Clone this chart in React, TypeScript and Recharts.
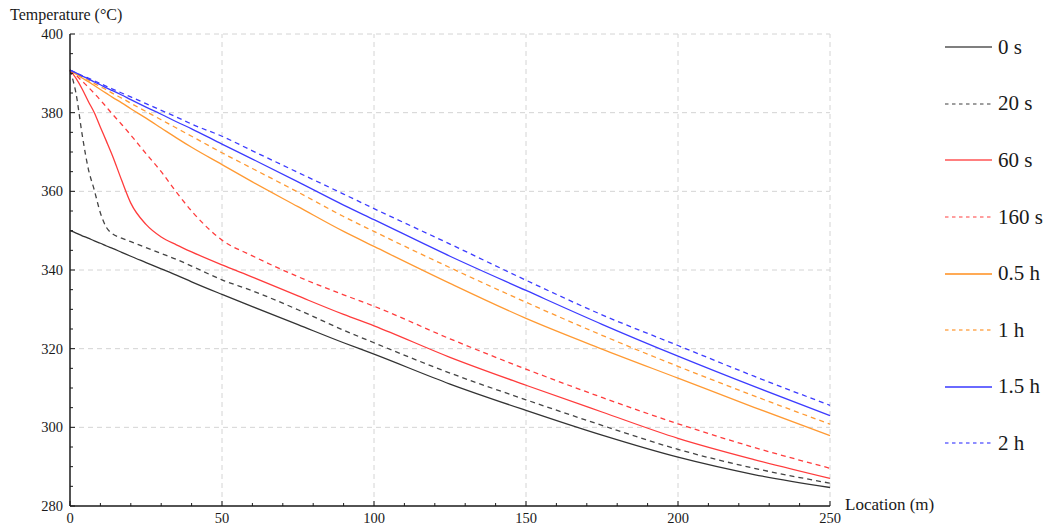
import { CartesianGrid, Line, LineChart, ReferenceLine, XAxis, YAxis } from 'recharts';

// location along the pipe (m)
const locations = [0, 2, 4, 6, 8, 10, 12, 14, 17, 20, 25, 30, 35, 40, 50, 60, 75, 90, 100, 125, 150, 175, 200, 225, 250];

// temperature profiles (°C) at each time step
const t0s = [350.0, 349.4, 348.7, 348.1, 347.4, 346.8, 346.1, 345.5, 344.5, 343.5, 341.9, 340.3, 338.7, 337.0, 333.8, 330.7, 326.1, 321.5, 318.6, 311.0, 304.3, 298.0, 292.4, 288.0, 284.7];
const t20s = [390.8, 384.8, 374.4, 365.8, 360.3, 354.5, 350.8, 349.2, 348.1, 347.2, 345.7, 344.2, 342.7, 341.0, 337.5, 334.7, 329.9, 324.7, 321.5, 313.8, 307.0, 300.5, 294.4, 289.6, 285.8];
const t60s = [390.8, 388.7, 386.0, 382.9, 380.0, 376.3, 372.7, 369.0, 362.8, 357.0, 351.6, 348.4, 346.4, 344.6, 341.3, 338.2, 333.4, 328.7, 325.8, 317.8, 310.7, 303.9, 297.2, 291.8, 287.0];
const t160s = [390.8, 389.5, 388.0, 386.5, 384.9, 383.2, 381.4, 379.6, 377.0, 374.3, 369.6, 365.0, 359.8, 355.0, 347.6, 343.6, 338.3, 333.7, 330.8, 322.5, 314.8, 307.6, 300.9, 294.9, 289.6];
const t05h = [390.8, 389.8, 388.8, 387.9, 386.9, 385.9, 384.9, 383.9, 382.5, 381.0, 378.6, 376.1, 373.6, 371.2, 366.8, 362.4, 356.1, 349.8, 346.0, 336.6, 327.7, 319.9, 312.5, 305.1, 297.9];
const t1h = [390.8, 390.0, 389.1, 388.3, 387.4, 386.6, 385.8, 384.9, 383.7, 382.4, 380.3, 378.2, 376.1, 374.0, 369.8, 365.8, 359.8, 353.6, 349.8, 340.6, 331.8, 323.4, 315.5, 308.0, 300.8];
const t15h = [390.8, 390.1, 389.3, 388.6, 387.8, 387.1, 386.3, 385.6, 384.5, 383.3, 381.4, 379.6, 377.7, 375.9, 372.0, 368.2, 362.4, 356.5, 352.8, 343.5, 334.8, 326.2, 318.1, 310.4, 303.0];
const t2h = [390.8, 390.1, 389.4, 388.8, 388.1, 387.4, 386.7, 386.0, 385.0, 384.0, 382.3, 380.6, 378.9, 377.1, 374.0, 370.3, 364.8, 359.3, 355.6, 346.6, 337.4, 328.6, 320.8, 313.0, 305.6];

const xTicks = [0, 10, 20, 30, 40, 50, 60, 70, 80, 90, 100, 110, 120, 130, 140, 150, 160, 170, 180, 190, 200, 210, 220, 230, 240, 250];
const yTicks = [280, 285, 290, 295, 300, 305, 310, 315, 320, 325, 330, 335, 340, 345, 350, 355, 360, 365, 370, 375, 380, 385, 390, 395, 400];
const xGrid = [50, 100, 150, 200, 250];
const yGrid = [300, 320, 340, 360, 380, 400];

const series = [
  { key: 's0', name: '0 s', values: t0s, color: '#333333', legend: '#7f7f7f', dash: undefined },
  { key: 's20', name: '20 s', values: t20s, color: '#444444', legend: '#7f7f7f', dash: '5 4' },
  { key: 's60', name: '60 s', values: t60s, color: '#ff3c3c', legend: '#ff7f7f', dash: undefined },
  { key: 's160', name: '160 s', values: t160s, color: '#ff3c3c', legend: '#ff7f7f', dash: '5 4' },
  { key: 'h05', name: '0.5 h', values: t05h, color: '#ff9a33', legend: '#ffaa55', dash: undefined },
  { key: 'h1', name: '1 h', values: t1h, color: '#ff9a33', legend: '#ffaa55', dash: '5 4' },
  { key: 'h15', name: '1.5 h', values: t15h, color: '#3c3cff', legend: '#6a6aff', dash: undefined },
  { key: 'h2', name: '2 h', values: t2h, color: '#3c3cff', legend: '#6a6aff', dash: '5 4' },
];

const rows = locations.map((x, i) => {
  const row: Record<string, number> = { x };
  series.forEach((s) => {
    row[s.key] = s.values[i];
  });
  return row;
});

const font = '"Liberation Serif", "Times New Roman", serif';
const ink = '#1a1a1a';

function XTick(props: any) {
  const { x, y, payload } = props;
  const major = payload.value % 50 === 0;
  return (
    <g>
      <line x1={x} x2={x} y1={y} y2={y - (major ? 5 : 3)} stroke={ink} strokeWidth={1} />
      {major && (
        <text x={x} y={y + 17} textAnchor="middle" fontFamily={font} fontSize={14.5} fill={ink}>
          {payload.value}
        </text>
      )}
    </g>
  );
}

function YTick(props: any) {
  const { x, y, payload } = props;
  const major = payload.value % 20 === 0;
  return (
    <g>
      <line x1={x} x2={x + (major ? 5 : 3)} y1={y} y2={y} stroke={ink} strokeWidth={1} />
      {major && (
        <text x={x - 7} y={y + 5} textAnchor="end" fontFamily={font} fontSize={14.5} fill={ink}>
          {payload.value}
        </text>
      )}
    </g>
  );
}

export default function App() {
  return (
    <div style={{ position: 'absolute', left: 0, top: 0, width: 1053, height: 532, background: '#fff', fontFamily: font }}>
      <LineChart width={1053} height={532} data={rows} margin={{ top: 34, right: 223, bottom: 0, left: 8 }}>
        <CartesianGrid horizontal={false} vertical={false} />
        {xGrid.map((v) => (
          <ReferenceLine key={'gx' + v} x={v} stroke="#d4d4d4" strokeDasharray="5 4" strokeWidth={1} />
        ))}
        {yGrid.map((v) => (
          <ReferenceLine key={'gy' + v} y={v} stroke="#d4d4d4" strokeDasharray="5 4" strokeWidth={1} />
        ))}
        <XAxis
          dataKey="x"
          type="number"
          domain={[0, 250]}
          ticks={xTicks}
          interval={0}
          height={26}
          tickSize={0}
          tickMargin={0}
          tickLine={false}
          axisLine={{ stroke: ink, strokeWidth: 1.5 }}
          tick={<XTick />}
        />
        <YAxis
          type="number"
          domain={[280, 400]}
          ticks={yTicks}
          interval={0}
          width={62}
          tickSize={0}
          tickMargin={0}
          tickLine={false}
          axisLine={{ stroke: ink, strokeWidth: 1.5 }}
          tick={<YTick />}
        />
        {series.map((s) => (
          <Line
            key={s.key}
            dataKey={s.key}
            name={s.name}
            type="monotone"
            stroke={s.color}
            strokeWidth={1.3}
            strokeDasharray={s.dash}
            dot={false}
            activeDot={false}
            isAnimationActive={false}
          />
        ))}
      </LineChart>

      <div style={{ position: 'absolute', left: 10, top: 6, fontSize: 16, color: ink, whiteSpace: 'nowrap' }}>Temperature (°C)</div>
      <div style={{ position: 'absolute', left: 845, top: 495, fontSize: 17, color: ink, whiteSpace: 'nowrap' }}>Location (m)</div>

      <div style={{ position: 'absolute', left: 945, top: 19 }}>
        {series.map((s) => (
          <div key={s.key} style={{ display: 'flex', alignItems: 'center', height: 56.6 }}>
            <svg width={48} height={6} style={{ display: 'block' }}>
              <line x1={0} x2={47} y1={3} y2={3} stroke={s.legend} strokeWidth={s.dash ? 1.3 : 2} strokeDasharray={s.dash ? '3.5 3.5' : undefined} />
            </svg>
            <span style={{ marginLeft: 5, fontSize: 21, color: ink, lineHeight: 1, whiteSpace: 'nowrap' }}>{s.name}</span>
          </div>
        ))}
      </div>
    </div>
  );
}
